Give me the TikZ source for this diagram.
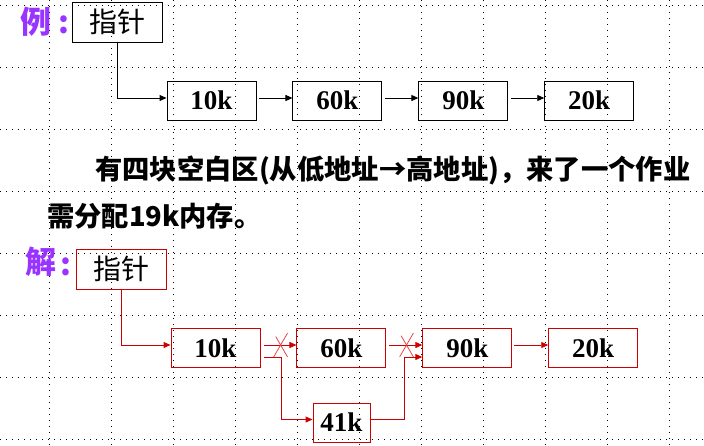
\documentclass[tikz,border=0pt]{standalone}
\usepackage{fontspec}
\setmainfont{Liberation Serif}
\newfontfamily\cjk{Noto Sans CJK SC}
\usetikzlibrary{arrows.meta,positioning,shapes.misc}
\definecolor{tagpurple}{RGB}{153,51,255}
\definecolor{linkred}{RGB}{204,0,0}
\definecolor{crossred}{RGB}{228,70,70}

\begin{document}
\begin{tikzpicture}[x=1pt,y=-1pt,node distance=36pt,
   dotline/.style={line width=1pt,dash pattern=on 1pt off 5pt},
   blk/.style={draw,line width=0.9pt,minimum width=89pt,minimum height=39pt,inner sep=0pt,
               font=\fontsize{27}{27}\selectfont\bfseries},
   ptr/.style={draw,line width=0.9pt,minimum width=90pt,minimum height=40pt,inner sep=0pt,
               font=\fontsize{28}{28}\selectfont\cjk},
   purpletag/.style={text=tagpurple,inner sep=0pt,font=\fontsize{31}{31}\selectfont\cjk\bfseries},
   arr/.style={-{Triangle[length=7pt,width=6pt]},line width=0.9pt},
   rd/.style={draw=linkred},
   xmark/.style={cross out,draw=crossred,line width=0.8pt,minimum width=13pt,
                 minimum height=23pt,inner sep=0pt}]
  \useasboundingbox (0,0) rectangle (704,445);
  % background grid
  \foreach \gx in {49,111,...,669}
     \draw[dotline] (\gx,0) -- (\gx,445);
  \foreach \gy in {5,67,...,439}
     \draw[dotline] (0,\gy) -- (704,\gy);

  % example
  \node[purpletag] (extag) at (36,22) {例};
  \node[purpletag] (excolon) at (64,25) {:};
  \node[ptr] (ptrA) at (117,22) {指针};
  \node[blk] (a1) at (211.5,100.5) {10k};
  \node[blk,right=of a1] (a2) {60k};
  \node[blk,right=of a2] (a3) {90k};
  \node[blk,right=of a3] (a4) {20k};
  \draw[arr] (ptrA.south) |- ([yshift=2.5pt]a1.west);
  \foreach \s/\t in {a1/a2,a2/a3,a3/a4}
     \draw[arr,shorten <=3pt] ([yshift=2.5pt]\s.east) -- ([yshift=2.5pt]\t.west);

  % task text
  \node[anchor=west,inner sep=0pt,font=\fontsize{27.3}{27.3}\selectfont\cjk\bfseries] (line1)
       at (95,170.5) {有四块空白区(从低地址→高地址)，来了一个作业};
  \node[anchor=west,inner sep=0pt,font=\fontsize{27.3}{27.3}\selectfont\cjk\bfseries] (line2)
       at (47,216) {需分配19k内存。};

  % solution
  \node[purpletag] (soltag) at (41,262) {解};
  \node[purpletag] (solcolon) at (66,267) {:};
  \node[ptr,rd] (ptrB) at (121.5,269) {指针};
  \node[blk,rd] (b1) at (215.5,348) {10k};
  \node[blk,rd,right=of b1] (b2) {60k};
  \node[blk,rd,right=of b2] (b3) {90k};
  \node[blk,rd,right=of b3] (b4) {20k};
  \node[blk,rd,minimum width=57pt] (b5) at (341.5,422.5) {41k};
  \draw[arr,linkred] (ptrB.south) |- ([yshift=3pt]b1.west);
  \draw[arr,linkred,shorten <=4pt] ([yshift=3pt]b1.east) -- node[xmark,pos=0.56] (x1) {}
       ([yshift=3pt]b2.west);
  \draw[arr,linkred,shorten <=3pt] ([yshift=3pt]b2.east) -- node[xmark,pos=0.56] (x2) {}
       ([yshift=3pt]b3.west);
  \draw[arr,linkred,shorten <=2pt] ([yshift=3pt]b3.east) -- ([yshift=3pt]b4.west);
  \draw[arr,linkred] ([xshift=4pt,yshift=-9pt]b1.east) -- ++(17pt,0) |- ([yshift=3pt]b5.west);
  \draw[arr,linkred] ([yshift=3pt]b5.east) -- ++(34pt,0) |- ([yshift=-9pt]b3.west);
\end{tikzpicture}
\end{document}
